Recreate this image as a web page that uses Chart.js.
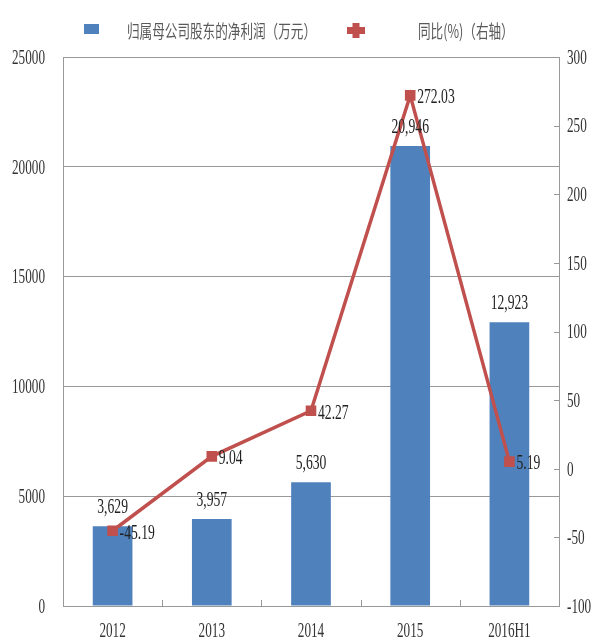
<!DOCTYPE html>
<html>
<head>
<meta charset="utf-8">
<script src="https://cdn.jsdelivr.net/npm/chart.js@4.4.1/dist/chart.umd.min.js"></script>
<style>
  html, body { margin: 0; padding: 0; background: #fff; }
  #wrap { width: 598px; height: 641px; }
</style>
</head>
<body>
<div id="wrap"><canvas id="chart"></canvas></div>
<script>
const years = ["2012", "2013", "2014", "2015", "2016H1"];
const profit = [3629, 3957, 5630, 20946, 12923];        // 万元
const yoy = [-45.19, 9.04, 42.27, 272.03, 5.19];         // %
const leftTicks = [0, 5000, 10000, 15000, 20000, 25000];
const rightTicks = [-100, -50, 0, 50, 100, 150, 200, 250, 300];
const seriesNames = ["归属母公司股东的净利润（万元）", "同比(%)（右轴）"];

const BLUE = "#4F81BD";
const RED = "#C0504D";
const AXIS = "#999";
const NUM_FONT = "22px 'Liberation Serif', 'DejaVu Serif', serif";
const CJK_FONT = "18px 'Noto Sans CJK SC', sans-serif";

// narrow text, squeezed horizontally
function drawText(ctx, s, x, y, align, font, color, sx) {
  ctx.save();
  ctx.translate(x, y);
  ctx.scale(sx, 1);
  ctx.font = font;
  ctx.fillStyle = color;
  ctx.textAlign = align;
  ctx.textBaseline = "middle";
  ctx.fillText(s, 0, 0);
  ctx.restore();
}

const extras = {
  id: "extras",
  afterDraw(chart) {
    const ctx = chart.ctx;
    const { x, y, y1 } = chart.scales;
    const area = chart.chartArea;

    // small inward ticks on the right axis and between categories
    ctx.save();
    ctx.strokeStyle = AXIS;
    ctx.lineWidth = 1;
    ctx.beginPath();
    rightTicks.forEach(v => {
      const py = Math.round(y1.getPixelForValue(v)) + 0.5;
      ctx.moveTo(area.right - 5, py);
      ctx.lineTo(area.right, py);
    });
    for (let i = 1; i < years.length; i++) {
      const px = Math.round((x.getPixelForTick(i - 1) + x.getPixelForTick(i)) / 2) + 0.5;
      ctx.moveTo(px, area.bottom);
      ctx.lineTo(px, area.bottom - 6);
    }
    ctx.stroke();
    ctx.restore();

    // axis labels
    leftTicks.forEach(v => {
      drawText(ctx, String(v), area.left - 18, y.getPixelForValue(v) + 1, "right", NUM_FONT, "#333", 0.6);
    });
    rightTicks.forEach(v => {
      drawText(ctx, String(v), area.right + 8, y1.getPixelForValue(v) + 1, "left", NUM_FONT, "#333", 0.6);
    });
    years.forEach((label, i) => {
      drawText(ctx, label, x.getPixelForTick(i), area.bottom + 25, "center", NUM_FONT, "#333", 0.6);
    });

    // value labels
    chart.getDatasetMeta(0).data.forEach((bar, i) => {
      drawText(ctx, profit[i].toLocaleString("en-US"), bar.x, bar.y - 19, "center", NUM_FONT, "#222", 0.62);
    });
    chart.getDatasetMeta(1).data.forEach((pt, i) => {
      drawText(ctx, yoy[i].toFixed(2), pt.x + 7, pt.y + 2, "left", NUM_FONT, "#222", 0.62);
    });

    // legend
    ctx.save();
    ctx.fillStyle = BLUE;
    ctx.fillRect(84, 24, 15, 10);
    ctx.fillStyle = RED;
    ctx.fillRect(347, 27, 18, 7);
    ctx.fillRect(352.5, 23, 7, 15);
    ctx.restore();
    drawText(ctx, seriesNames[0], 127, 31, "left", CJK_FONT, "#595959", 0.7);
    drawText(ctx, seriesNames[1], 418, 31, "left", CJK_FONT, "#595959", 0.7);
  }
};

new Chart(document.getElementById("chart"), {
  type: "bar",
  data: {
    labels: years,
    datasets: [
      {
        label: seriesNames[0],
        data: profit,
        backgroundColor: BLUE,
        barPercentage: 0.4,
        categoryPercentage: 1,
        yAxisID: "y",
        order: 2
      },
      {
        type: "line",
        label: seriesNames[1],
        data: yoy,
        borderColor: RED,
        borderWidth: 3.5,
        pointStyle: "rect",
        pointRadius: 7.5,
        pointBorderWidth: 0,
        pointBackgroundColor: RED,
        tension: 0,
        yAxisID: "y1",
        order: 1
      }
    ]
  },
  options: {
    responsive: true,
    maintainAspectRatio: false,
    animation: false,
    layout: { padding: { top: 57, left: 0, right: 0, bottom: 0 } },
    plugins: {
      legend: { display: false },
      tooltip: { enabled: false }
    },
    scales: {
      x: {
        grid: { display: false },
        border: { color: AXIS },
        ticks: { display: false },
        afterFit: s => { s.height = 35; }
      },
      y: {
        position: "left",
        min: 0,
        max: 25000,
        ticks: { stepSize: 5000, display: false },
        grid: { color: AXIS, drawTicks: false },
        border: { color: AXIS },
        afterFit: s => { s.width = 63; }
      },
      y1: {
        position: "right",
        min: -100,
        max: 300,
        ticks: { stepSize: 50, display: false },
        grid: { drawOnChartArea: false, drawTicks: false },
        border: { color: AXIS },
        afterFit: s => { s.width = 39; }
      }
    }
  },
  plugins: [extras]
});
</script>
</body>
</html>
